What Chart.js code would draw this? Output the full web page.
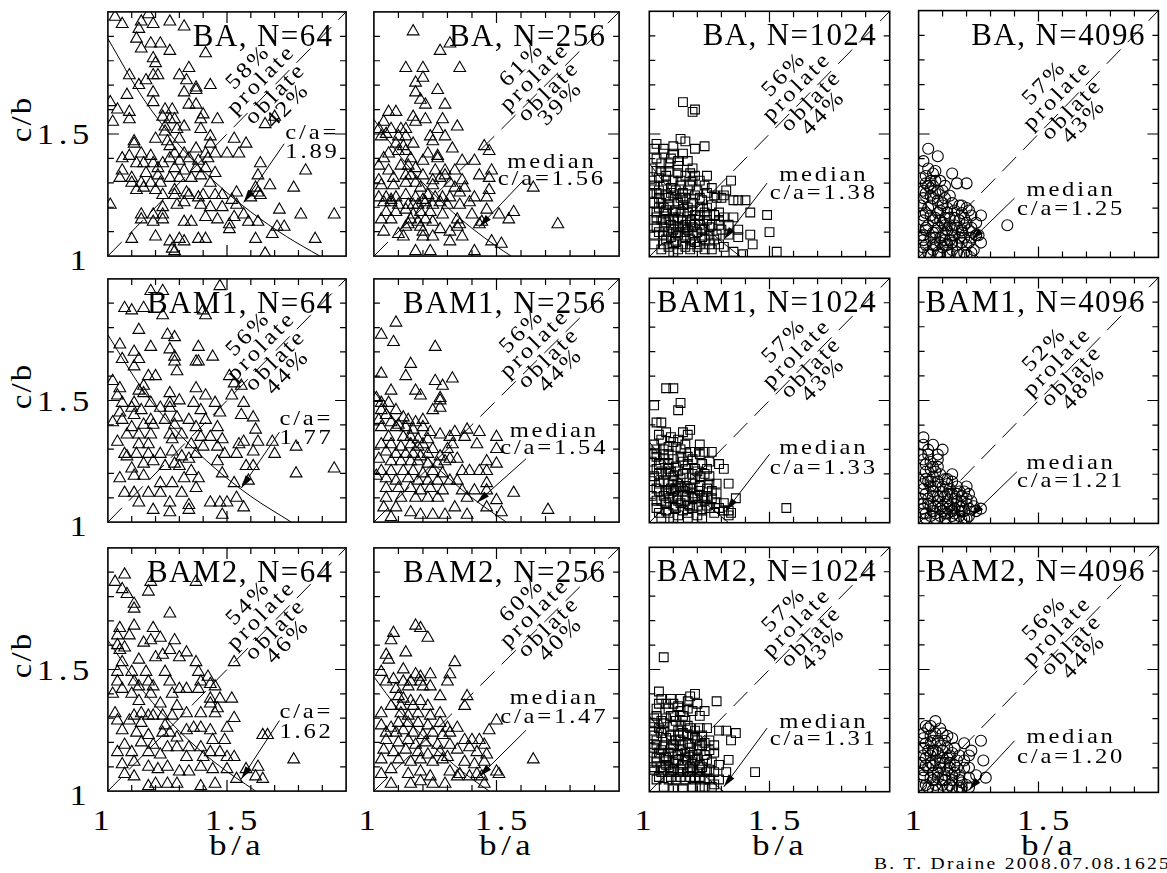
<!DOCTYPE html>
<html>
<head>
<meta charset="utf-8">
<title>c/b vs b/a</title>
<script src="https://cdn.jsdelivr.net/npm/chart.js@4.4.0/dist/chart.umd.min.js"></script>
<style>
  body { margin: 0; width: 1167px; height: 873px; overflow: hidden; background: #fff; position: relative;
         font-family: "Liberation Serif", serif; color: #000; }
  .lab { position: absolute; white-space: nowrap; line-height: 1; font-weight: normal; transform-origin: center center; }
</style>
</head>
<body>
<script>
// ---- data (b/a, c/b) ----
const ba64 = [[1.03,1.98],[1.06,1.95],[1.17,1.99],[1.14,1.96],[1.19,1.95],[1.26,1.96],[1.32,1.94],[1.13,1.93],[1.12,1.89],[1.18,1.87],[1.22,1.87],[1.26,1.84],[1.14,1.85],[1.41,1.83],[1.19,1.81],[1.20,1.79],[1.34,1.77],[1.09,1.74],[1.19,1.74],[1.21,1.74],[1.30,1.74],[1.13,1.70],[1.16,1.72],[1.33,1.72],[1.43,1.70],[1.37,1.69],[1.32,1.67],[1.08,1.66],[1.19,1.67],[1.37,1.68],[1.01,1.63],[1.04,1.60],[1.09,1.59],[1.19,1.63],[1.34,1.62],[1.37,1.62],[1.40,1.58],[1.24,1.60],[1.27,1.60],[1.23,1.57],[1.26,1.56],[1.28,1.56],[1.46,1.56],[1.39,1.56],[1.02,1.55],[1.70,1.57],[1.66,1.54],[1.09,1.56],[1.24,1.53],[1.29,1.52],[1.32,1.53],[1.39,1.52],[1.24,1.51],[1.43,1.49],[1.53,1.48],[1.58,1.46],[1.11,1.46],[1.11,1.47],[1.20,1.48],[1.25,1.47],[1.30,1.48],[1.26,1.45],[1.43,1.46],[1.41,1.42],[1.37,1.44],[1.45,1.42],[1.50,1.42],[1.55,1.42],[1.09,1.41],[1.06,1.40],[1.14,1.42],[1.18,1.41],[1.28,1.42],[1.32,1.42],[1.12,1.38],[1.15,1.38],[1.19,1.38],[1.23,1.38],[1.26,1.40],[1.30,1.39],[1.34,1.40],[1.38,1.39],[1.42,1.40],[1.06,1.35],[1.16,1.34],[1.21,1.33],[1.21,1.36],[1.28,1.36],[1.32,1.35],[1.37,1.36],[1.41,1.36],[1.45,1.34],[1.05,1.32],[1.10,1.32],[1.10,1.30],[1.14,1.30],[1.15,1.28],[1.18,1.30],[1.22,1.30],[1.26,1.32],[1.30,1.32],[1.35,1.32],[1.39,1.33],[1.43,1.30],[1.64,1.38],[1.63,1.33],[1.83,1.35],[1.12,1.27],[1.20,1.27],[1.28,1.27],[1.33,1.26],[1.23,1.25],[1.28,1.25],[1.34,1.25],[1.38,1.24],[1.40,1.25],[1.45,1.25],[1.48,1.25],[1.52,1.23],[1.54,1.26],[1.62,1.28],[1.64,1.25],[1.68,1.29],[1.78,1.28],[1.01,1.21],[1.19,1.17],[1.23,1.20],[1.29,1.21],[1.32,1.22],[1.39,1.21],[1.43,1.20],[1.48,1.20],[1.54,1.21],[1.60,1.24],[1.63,1.26],[1.23,1.17],[1.23,1.15],[1.14,1.15],[1.14,1.17],[1.19,1.14],[1.32,1.14],[1.35,1.14],[1.41,1.16],[1.46,1.15],[1.53,1.16],[1.57,1.17],[1.59,1.14],[1.63,1.14],[1.72,1.19],[1.81,1.17],[1.95,1.17],[1.71,1.12],[1.74,1.12],[1.51,1.13],[1.51,1.11],[1.10,1.07],[1.20,1.08],[1.26,1.06],[1.30,1.07],[1.32,1.06],[1.38,1.07],[1.41,1.07],[1.27,1.03],[1.62,1.07],[1.69,1.09],[1.87,1.07],[1.66,1.01],[1.28,1.02]];

const ba256 = [[1.16,1.92],[1.27,1.84],[1.31,1.87],[1.13,1.77],[1.20,1.77],[1.35,1.77],[1.17,1.71],[1.20,1.73],[1.17,1.67],[1.26,1.68],[1.19,1.64],[1.21,1.62],[1.29,1.62],[1.06,1.59],[1.09,1.59],[1.04,1.55],[1.16,1.57],[1.17,1.55],[1.21,1.56],[1.28,1.56],[1.34,1.53],[1.02,1.52],[1.07,1.52],[1.11,1.52],[1.13,1.52],[1.03,1.49],[1.05,1.50],[1.10,1.49],[1.13,1.49],[1.23,1.49],[1.26,1.52],[1.29,1.49],[1.09,1.46],[1.12,1.45],[1.16,1.46],[1.24,1.47],[1.32,1.44],[1.45,1.45],[1.47,1.43],[1.10,1.43],[1.13,1.43],[1.22,1.42],[1.26,1.41],[1.06,1.42],[1.04,1.40],[1.15,1.40],[1.20,1.39],[1.26,1.40],[1.36,1.39],[1.41,1.39],[1.02,1.37],[1.06,1.35],[1.11,1.37],[1.14,1.37],[1.17,1.36],[1.25,1.35],[1.29,1.35],[1.33,1.35],[1.43,1.33],[1.48,1.35],[1.02,1.31],[1.08,1.32],[1.13,1.33],[1.15,1.33],[1.20,1.33],[1.24,1.31],[1.27,1.32],[1.29,1.33],[1.36,1.31],[1.47,1.32],[1.03,1.29],[1.08,1.29],[1.13,1.30],[1.17,1.30],[1.19,1.28],[1.24,1.29],[1.31,1.30],[1.33,1.28],[1.37,1.28],[1.47,1.27],[1.65,1.28],[1.02,1.24],[1.05,1.24],[1.07,1.23],[1.09,1.24],[1.13,1.25],[1.17,1.24],[1.20,1.23],[1.22,1.25],[1.25,1.24],[1.28,1.24],[1.31,1.24],[1.35,1.26],[1.41,1.24],[1.46,1.24],[1.39,1.22],[1.04,1.22],[1.07,1.22],[1.10,1.21],[1.14,1.21],[1.16,1.21],[1.18,1.21],[1.21,1.22],[1.24,1.21],[1.27,1.22],[1.30,1.21],[1.35,1.21],[1.05,1.18],[1.09,1.18],[1.13,1.19],[1.16,1.17],[1.19,1.18],[1.23,1.18],[1.28,1.17],[1.46,1.19],[1.51,1.17],[1.55,1.15],[1.57,1.18],[1.75,1.13],[1.03,1.15],[1.07,1.15],[1.15,1.15],[1.18,1.14],[1.21,1.15],[1.24,1.14],[1.34,1.15],[1.35,1.13],[1.40,1.17],[1.43,1.13],[1.44,1.14],[1.14,1.13],[1.19,1.12],[1.20,1.10],[1.27,1.11],[1.31,1.10],[1.34,1.12],[1.04,1.10],[1.13,1.12],[1.20,1.08],[1.24,1.08],[1.31,1.06],[1.36,1.08],[1.48,1.06],[1.52,1.05],[1.17,1.02],[1.23,1.02],[1.41,1.02],[1.10,1.09],[1.12,1.08]];

const ba1024 = [[1.14,1.63],[1.18,1.59],[1.19,1.60],[1.03,1.46],[1.06,1.44],[1.10,1.45],[1.13,1.48],[1.15,1.47],[1.19,1.44],[1.23,1.45],[1.02,1.44],[1.06,1.42],[1.10,1.42],[1.14,1.42],[1.12,1.39],[1.05,1.35],[1.08,1.35],[1.12,1.34],[1.15,1.33],[1.04,1.32],[1.07,1.31],[1.10,1.31],[1.18,1.31],[1.21,1.31],[1.02,1.29],[1.06,1.29],[1.09,1.28],[1.13,1.29],[1.17,1.29],[1.23,1.29],[1.34,1.31],[1.03,1.26],[1.07,1.25],[1.10,1.25],[1.13,1.24],[1.15,1.24],[1.19,1.25],[1.28,1.24],[1.31,1.25],[1.32,1.27],[1.27,1.25],[1.30,1.24],[1.35,1.23],[1.37,1.23],[1.40,1.23],[1.02,1.22],[1.05,1.22],[1.08,1.21],[1.12,1.22],[1.14,1.21],[1.18,1.22],[1.21,1.20],[1.24,1.20],[1.03,1.18],[1.06,1.18],[1.10,1.18],[1.13,1.18],[1.16,1.18],[1.19,1.17],[1.23,1.18],[1.29,1.18],[1.42,1.18],[1.49,1.17],[1.02,1.15],[1.05,1.15],[1.08,1.15],[1.10,1.15],[1.14,1.15],[1.17,1.15],[1.21,1.15],[1.24,1.15],[1.29,1.15],[1.03,1.12],[1.06,1.12],[1.10,1.11],[1.12,1.12],[1.16,1.11],[1.18,1.12],[1.22,1.11],[1.25,1.12],[1.29,1.13],[1.33,1.13],[1.37,1.11],[1.02,1.09],[1.06,1.09],[1.09,1.08],[1.12,1.09],[1.15,1.08],[1.18,1.09],[1.22,1.08],[1.25,1.09],[1.28,1.09],[1.37,1.08],[1.42,1.09],[1.50,1.10],[1.02,1.05],[1.06,1.05],[1.10,1.05],[1.14,1.05],[1.17,1.05],[1.21,1.05],[1.25,1.05],[1.29,1.05],[1.43,1.05],[1.05,1.03],[1.10,1.02],[1.17,1.03],[1.23,1.03],[1.35,1.02],[1.39,1.01],[1.53,1.02],[1.04,1.27],[1.08,1.24],[1.11,1.27],[1.14,1.26],[1.16,1.20],[1.07,1.19],[1.12,1.16],[1.09,1.13],[1.15,1.13],[1.19,1.13],[1.13,1.10],[1.17,1.07],[1.20,1.10],[1.07,1.07],[1.11,1.06],[1.04,1.20],[1.01,1.26],[1.01,1.31],[1.01,1.36],[1.08,1.38],[1.17,1.34],[1.20,1.27],[1.22,1.23],[1.26,1.21],[1.27,1.17],[1.31,1.16],[1.26,1.13],[1.33,1.09],[1.35,1.16],
  [1.03,1.40],[1.05,1.38],[1.09,1.40],[1.12,1.37],[1.16,1.39],[1.18,1.36],[1.03,1.35],[1.07,1.33],[1.13,1.31],[1.19,1.33],[1.24,1.33],[1.26,1.28],[1.04,1.24],[1.09,1.26],[1.16,1.27],[1.21,1.24],[1.24,1.26],[1.06,1.20],[1.11,1.19],[1.14,1.23],[1.18,1.19],[1.21,1.17],[1.24,1.17],[1.03,1.16],[1.07,1.14],[1.10,1.16],[1.14,1.12],[1.17,1.14],[1.21,1.13],[1.23,1.11],[1.04,1.10],[1.08,1.10],[1.11,1.10],[1.15,1.10],[1.19,1.06],[1.23,1.07],[1.27,1.07],[1.08,1.04],[1.12,1.03],[1.15,1.04],[1.20,1.04],[1.26,1.03],[1.31,1.04],[1.30,1.11]];

const ba4096 = [[1.04,1.44],[1.08,1.41],[1.02,1.39],[1.06,1.34],[1.14,1.34],[1.16,1.30],[1.20,1.30],[1.03,1.30],[1.07,1.31],[1.05,1.28],[1.08,1.27],[1.02,1.24],[1.06,1.24],[1.10,1.22],[1.14,1.22],[1.17,1.21],[1.20,1.20],[1.26,1.17],[1.04,1.20],[1.08,1.18],[1.12,1.18],[1.15,1.16],[1.19,1.16],[1.22,1.17],[1.02,1.15],[1.06,1.15],[1.10,1.14],[1.13,1.13],[1.16,1.12],[1.37,1.13],[1.03,1.11],[1.07,1.10],[1.10,1.09],[1.14,1.09],[1.18,1.10],[1.24,1.09],[1.26,1.06],[1.02,1.07],[1.06,1.05],[1.09,1.06],[1.12,1.05],[1.16,1.05],[1.20,1.05],[1.22,1.02],[1.04,1.02],[1.08,1.02],[1.12,1.02],[1.16,1.02],[1.19,1.02],[1.03,1.18],[1.05,1.21],[1.07,1.26],[1.09,1.19],[1.11,1.16],[1.04,1.13],[1.08,1.12],[1.12,1.11],[1.05,1.08],[1.09,1.08],[1.13,1.07],[1.01,1.09],[1.02,1.04],[1.06,1.03],[1.10,1.04],[1.14,1.03],[1.17,1.08],[1.15,1.13],[1.19,1.13],[1.21,1.11],[1.03,1.26],[1.06,1.29],[1.10,1.27],[1.13,1.25],[1.01,1.32],[1.04,1.36],[1.07,1.35],[1.22,1.08],[1.01,1.21],[1.18,1.18],[1.07,1.16],[1.10,1.21],[1.24,1.14],[1.23,1.03],[1.01,1.02],[1.04,1.29],[1.24,1.09],[1.25,1.09],
  [1.02,1.27],[1.05,1.25],[1.08,1.23],[1.11,1.24],[1.12,1.20],[1.15,1.19],[1.18,1.21],[1.21,1.19],[1.02,1.17],[1.05,1.17],[1.09,1.15],[1.13,1.16],[1.17,1.15],[1.20,1.14],[1.03,1.12],[1.06,1.10],[1.11,1.13],[1.14,1.11],[1.18,1.11],[1.22,1.12],[1.02,1.09],[1.07,1.08],[1.11,1.07],[1.15,1.09],[1.19,1.08],[1.03,1.05],[1.07,1.05],[1.11,1.05],[1.14,1.06],[1.18,1.06],[1.21,1.06],[1.05,1.01],[1.09,1.01],[1.13,1.01],[1.17,1.01],[1.20,1.01],[1.03,1.33],[1.09,1.31],[1.11,1.29],[1.05,1.31]];

const bam1_64 = [[1.18,1.95],[1.23,1.95],[1.47,1.97],[1.07,1.88],[1.10,1.87],[1.15,1.88],[1.23,1.85],[1.40,1.87],[1.41,1.85],[1.13,1.79],[1.25,1.77],[1.28,1.76],[1.05,1.73],[1.11,1.70],[1.18,1.72],[1.26,1.71],[1.38,1.72],[1.06,1.67],[1.13,1.67],[1.28,1.68],[1.37,1.66],[1.44,1.68],[1.11,1.64],[1.28,1.66],[1.38,1.66],[1.29,1.62],[1.17,1.60],[1.20,1.60],[1.02,1.58],[1.51,1.60],[1.53,1.57],[1.56,1.56],[1.05,1.55],[1.15,1.56],[1.13,1.54],[1.37,1.55],[1.04,1.52],[1.15,1.53],[1.26,1.53],[1.41,1.52],[1.06,1.49],[1.11,1.49],[1.18,1.49],[1.26,1.49],[1.30,1.50],[1.36,1.49],[1.45,1.49],[1.52,1.52],[1.57,1.49],[1.05,1.45],[1.10,1.47],[1.14,1.46],[1.22,1.47],[1.26,1.47],[1.39,1.46],[1.47,1.45],[1.06,1.42],[1.11,1.44],[1.18,1.42],[1.24,1.42],[1.29,1.43],[1.34,1.42],[1.41,1.42],[1.56,1.44],[1.61,1.43],[1.02,1.41],[1.10,1.39],[1.15,1.40],[1.19,1.40],[1.28,1.40],[1.37,1.39],[1.46,1.39],[1.62,1.38],[1.08,1.36],[1.13,1.36],[1.18,1.36],[1.26,1.36],[1.31,1.36],[1.39,1.35],[1.43,1.35],[1.48,1.34],[1.04,1.33],[1.13,1.32],[1.17,1.32],[1.27,1.34],[1.35,1.32],[1.40,1.31],[1.46,1.31],[1.55,1.32],[1.57,1.33],[1.63,1.33],[1.69,1.33],[1.79,1.31],[1.07,1.28],[1.08,1.27],[1.12,1.28],[1.17,1.28],[1.22,1.28],[1.27,1.29],[1.31,1.27],[1.37,1.28],[1.46,1.25],[1.49,1.28],[1.54,1.28],[1.61,1.29],[1.70,1.28],[1.10,1.22],[1.11,1.19],[1.15,1.24],[1.19,1.25],[1.24,1.23],[1.28,1.24],[1.30,1.23],[1.34,1.26],[1.35,1.21],[1.58,1.23],[1.61,1.23],[1.79,1.20],[1.95,1.22],[1.05,1.18],[1.15,1.19],[1.22,1.16],[1.27,1.16],[1.32,1.18],[1.38,1.18],[1.48,1.20],[1.59,1.17],[1.07,1.12],[1.11,1.12],[1.17,1.12],[1.22,1.12],[1.31,1.12],[1.37,1.14],[1.53,1.16],[1.13,1.08],[1.19,1.05],[1.26,1.08],[1.34,1.07],[1.34,1.05],[1.43,1.08],[1.47,1.08],[1.50,1.08],[1.54,1.10],[1.57,1.06],[1.48,1.03],[1.26,1.04]];

const bam1_256 = [[1.09,1.82],[1.03,1.77],[1.08,1.74],[1.25,1.72],[1.15,1.65],[1.03,1.61],[1.13,1.60],[1.32,1.59],[1.25,1.58],[1.28,1.56],[1.07,1.54],[1.17,1.54],[1.19,1.52],[1.27,1.51],[1.27,1.50],[1.01,1.51],[1.03,1.49],[1.06,1.49],[1.24,1.46],[1.27,1.47],[1.03,1.46],[1.05,1.44],[1.09,1.46],[1.12,1.43],[1.02,1.42],[1.07,1.41],[1.10,1.40],[1.14,1.42],[1.17,1.41],[1.20,1.42],[1.03,1.39],[1.09,1.39],[1.13,1.39],[1.16,1.38],[1.20,1.39],[1.23,1.37],[1.27,1.36],[1.33,1.37],[1.38,1.38],[1.43,1.37],[1.50,1.35],[1.06,1.35],[1.12,1.35],[1.15,1.35],[1.18,1.34],[1.22,1.34],[1.31,1.35],[1.37,1.35],[1.03,1.32],[1.07,1.32],[1.11,1.31],[1.15,1.32],[1.18,1.31],[1.20,1.32],[1.24,1.30],[1.30,1.30],[1.32,1.32],[1.42,1.32],[1.50,1.30],[1.05,1.29],[1.09,1.28],[1.13,1.28],[1.16,1.28],[1.19,1.27],[1.22,1.28],[1.27,1.27],[1.31,1.26],[1.34,1.26],[1.02,1.26],[1.07,1.25],[1.11,1.25],[1.15,1.25],[1.18,1.25],[1.22,1.24],[1.26,1.24],[1.29,1.25],[1.46,1.25],[1.50,1.24],[1.03,1.21],[1.07,1.21],[1.12,1.21],[1.16,1.21],[1.20,1.20],[1.24,1.21],[1.28,1.20],[1.36,1.21],[1.39,1.21],[1.43,1.21],[1.46,1.21],[1.01,1.19],[1.05,1.18],[1.09,1.17],[1.14,1.18],[1.18,1.17],[1.22,1.17],[1.26,1.17],[1.31,1.17],[1.34,1.17],[1.46,1.16],[1.05,1.14],[1.10,1.14],[1.15,1.14],[1.19,1.13],[1.23,1.14],[1.28,1.13],[1.36,1.13],[1.41,1.13],[1.46,1.13],[1.57,1.12],[1.05,1.10],[1.11,1.10],[1.17,1.10],[1.22,1.10],[1.26,1.10],[1.38,1.10],[1.50,1.09],[1.04,1.06],[1.09,1.06],[1.15,1.04],[1.19,1.03],[1.24,1.03],[1.29,1.03],[1.38,1.03],[1.46,1.06],[1.52,1.04],[1.71,1.05],[1.07,1.02],[1.33,1.06]];

const bam1_1024 = [[1.07,1.55],[1.10,1.55],[1.02,1.48],[1.13,1.49],[1.12,1.46],[1.03,1.41],[1.05,1.41],[1.07,1.37],[1.14,1.37],[1.17,1.38],[1.16,1.36],[1.05,1.34],[1.10,1.33],[1.15,1.32],[1.21,1.32],[1.03,1.30],[1.06,1.30],[1.11,1.31],[1.17,1.29],[1.23,1.29],[1.26,1.29],[1.02,1.28],[1.08,1.28],[1.13,1.27],[1.21,1.28],[1.25,1.25],[1.29,1.24],[1.31,1.22],[1.04,1.24],[1.08,1.24],[1.11,1.23],[1.16,1.24],[1.19,1.22],[1.22,1.24],[1.04,1.20],[1.07,1.20],[1.10,1.19],[1.14,1.20],[1.18,1.20],[1.21,1.19],[1.25,1.19],[1.04,1.16],[1.08,1.16],[1.12,1.16],[1.15,1.15],[1.18,1.16],[1.25,1.16],[1.28,1.16],[1.33,1.16],[1.04,1.13],[1.07,1.13],[1.10,1.13],[1.14,1.13],[1.18,1.12],[1.21,1.13],[1.24,1.11],[1.28,1.12],[1.05,1.09],[1.08,1.10],[1.12,1.09],[1.15,1.09],[1.18,1.10],[1.23,1.09],[1.28,1.08],[1.31,1.08],[1.36,1.10],[1.03,1.06],[1.07,1.05],[1.11,1.06],[1.14,1.05],[1.18,1.06],[1.22,1.05],[1.25,1.06],[1.33,1.05],[1.34,1.04],[1.57,1.06],[1.05,1.02],[1.10,1.02],[1.16,1.02],[1.22,1.02],[1.33,1.03],[1.06,1.26],[1.09,1.21],[1.13,1.18],[1.16,1.14],[1.19,1.18],[1.09,1.14],[1.06,1.11],[1.12,1.11],[1.17,1.07],[1.20,1.11],[1.03,1.22],[1.01,1.17],[1.01,1.11],[1.01,1.25],[1.14,1.25],[1.18,1.26],[1.10,1.07],[1.26,1.13],[1.23,1.20],[1.02,1.32],[1.08,1.31],[1.12,1.34],
  [1.04,1.36],[1.09,1.35],[1.13,1.30],[1.06,1.28],[1.10,1.26],[1.16,1.27],[1.19,1.29],[1.03,1.27],[1.05,1.21],[1.08,1.22],[1.12,1.21],[1.15,1.22],[1.20,1.21],[1.24,1.22],[1.02,1.19],[1.06,1.17],[1.10,1.17],[1.13,1.15],[1.17,1.14],[1.21,1.15],[1.24,1.14],[1.03,1.14],[1.08,1.12],[1.11,1.14],[1.15,1.11],[1.19,1.11],[1.22,1.10],[1.26,1.10],[1.03,1.09],[1.07,1.08],[1.10,1.10],[1.13,1.08],[1.16,1.07],[1.20,1.07],[1.24,1.07],[1.29,1.06],[1.04,1.04],[1.08,1.04],[1.12,1.03],[1.16,1.04],[1.20,1.03],[1.27,1.04],[1.31,1.05]];

const bam1_4096 = [[1.02,1.35],[1.06,1.32],[1.10,1.30],[1.02,1.32],[1.03,1.24],[1.05,1.25],[1.08,1.26],[1.03,1.21],[1.07,1.21],[1.14,1.20],[1.04,1.17],[1.08,1.17],[1.12,1.16],[1.16,1.15],[1.20,1.15],[1.02,1.14],[1.06,1.13],[1.10,1.13],[1.14,1.12],[1.18,1.11],[1.21,1.12],[1.04,1.10],[1.08,1.09],[1.12,1.09],[1.16,1.09],[1.20,1.08],[1.26,1.06],[1.24,1.05],[1.02,1.06],[1.06,1.05],[1.10,1.05],[1.14,1.05],[1.18,1.05],[1.21,1.03],[1.03,1.02],[1.07,1.02],[1.11,1.02],[1.15,1.02],[1.19,1.02],[1.03,1.18],[1.06,1.19],[1.09,1.20],[1.05,1.15],[1.08,1.11],[1.11,1.11],[1.13,1.14],[1.04,1.08],[1.07,1.07],[1.10,1.07],[1.13,1.07],[1.16,1.12],[1.01,1.10],[1.02,1.04],[1.05,1.03],[1.09,1.03],[1.12,1.04],[1.15,1.04],[1.17,1.07],[1.01,1.28],[1.04,1.28],[1.06,1.23],[1.11,1.18],[1.19,1.05],[1.22,1.09],
  [1.02,1.26],[1.05,1.22],[1.08,1.23],[1.02,1.16],[1.05,1.17],[1.07,1.15],[1.10,1.15],[1.12,1.18],[1.14,1.17],[1.17,1.13],[1.19,1.13],[1.03,1.12],[1.06,1.11],[1.09,1.11],[1.12,1.12],[1.15,1.10],[1.18,1.09],[1.20,1.10],[1.02,1.08],[1.05,1.07],[1.09,1.06],[1.12,1.06],[1.15,1.06],[1.18,1.07],[1.21,1.06],[1.23,1.07],[1.03,1.04],[1.07,1.04],[1.11,1.04],[1.14,1.03],[1.17,1.03],[1.20,1.02],[1.04,1.30],[1.08,1.28]];

const bam2_64 = [[1.03,1.86],[1.07,1.89],[1.06,1.83],[1.08,1.81],[1.17,1.82],[1.18,1.86],[1.37,1.86],[1.11,1.77],[1.11,1.75],[1.26,1.73],[1.05,1.67],[1.11,1.68],[1.19,1.67],[1.04,1.64],[1.09,1.64],[1.15,1.61],[1.18,1.62],[1.22,1.63],[1.28,1.62],[1.04,1.60],[1.07,1.59],[1.26,1.58],[1.33,1.57],[1.05,1.58],[1.23,1.56],[1.30,1.55],[1.06,1.53],[1.13,1.54],[1.20,1.55],[1.37,1.53],[1.53,1.53],[1.04,1.49],[1.10,1.49],[1.16,1.49],[1.24,1.49],[1.38,1.49],[1.42,1.47],[1.04,1.45],[1.11,1.45],[1.17,1.45],[1.26,1.45],[1.39,1.45],[1.43,1.44],[1.06,1.42],[1.13,1.43],[1.19,1.43],[1.30,1.42],[1.33,1.42],[1.38,1.42],[1.45,1.43],[1.02,1.40],[1.10,1.40],[1.18,1.40],[1.27,1.40],[1.43,1.38],[1.47,1.38],[1.52,1.38],[1.13,1.37],[1.22,1.36],[1.29,1.35],[1.33,1.32],[1.43,1.36],[1.46,1.34],[1.03,1.32],[1.11,1.31],[1.14,1.32],[1.17,1.31],[1.19,1.31],[1.23,1.31],[1.27,1.31],[1.39,1.32],[1.45,1.32],[1.53,1.30],[1.04,1.29],[1.09,1.29],[1.14,1.28],[1.24,1.27],[1.33,1.25],[1.36,1.26],[1.39,1.26],[1.43,1.25],[1.50,1.26],[1.65,1.23],[1.67,1.23],[1.06,1.25],[1.12,1.24],[1.17,1.23],[1.23,1.24],[1.26,1.24],[1.29,1.22],[1.44,1.21],[1.49,1.21],[1.07,1.19],[1.14,1.20],[1.19,1.19],[1.25,1.18],[1.29,1.18],[1.34,1.18],[1.39,1.18],[1.43,1.16],[1.47,1.16],[1.04,1.16],[1.10,1.16],[1.17,1.16],[1.22,1.15],[1.33,1.14],[1.40,1.14],[1.50,1.14],[1.53,1.14],[1.78,1.13],[1.06,1.11],[1.11,1.12],[1.17,1.10],[1.21,1.09],[1.25,1.10],[1.30,1.08],[1.34,1.08],[1.39,1.10],[1.44,1.09],[1.50,1.09],[1.58,1.09],[1.63,1.10],[1.62,1.06],[1.65,1.05],[1.11,1.06],[1.17,1.02],[1.20,1.03],[1.25,1.03],[1.29,1.03],[1.39,1.02],[1.45,1.03],[1.54,1.05],[1.07,1.07]];

const bam2_256 = [[1.17,1.68],[1.19,1.67],[1.22,1.63],[1.08,1.65],[1.07,1.62],[1.13,1.57],[1.05,1.56],[1.06,1.54],[1.33,1.53],[1.03,1.49],[1.12,1.50],[1.17,1.48],[1.19,1.47],[1.23,1.48],[1.31,1.48],[1.05,1.45],[1.08,1.46],[1.12,1.45],[1.15,1.45],[1.19,1.45],[1.30,1.45],[1.09,1.42],[1.14,1.43],[1.20,1.43],[1.23,1.43],[1.10,1.39],[1.12,1.38],[1.15,1.37],[1.19,1.37],[1.27,1.39],[1.38,1.39],[1.07,1.35],[1.11,1.35],[1.16,1.35],[1.22,1.35],[1.37,1.35],[1.03,1.32],[1.11,1.32],[1.14,1.31],[1.18,1.32],[1.23,1.31],[1.27,1.32],[1.50,1.29],[1.03,1.27],[1.07,1.26],[1.10,1.28],[1.14,1.28],[1.18,1.28],[1.22,1.27],[1.27,1.28],[1.30,1.26],[1.34,1.26],[1.47,1.25],[1.05,1.24],[1.09,1.24],[1.12,1.25],[1.16,1.24],[1.20,1.23],[1.24,1.24],[1.28,1.23],[1.31,1.24],[1.37,1.21],[1.40,1.21],[1.43,1.21],[1.05,1.21],[1.10,1.20],[1.14,1.21],[1.17,1.19],[1.21,1.20],[1.26,1.19],[1.31,1.19],[1.34,1.17],[1.39,1.18],[1.45,1.19],[1.04,1.17],[1.08,1.16],[1.13,1.17],[1.18,1.16],[1.22,1.15],[1.27,1.16],[1.30,1.14],[1.42,1.16],[1.46,1.15],[1.65,1.13],[1.03,1.13],[1.10,1.13],[1.15,1.12],[1.19,1.13],[1.24,1.12],[1.28,1.13],[1.37,1.12],[1.41,1.11],[1.45,1.12],[1.03,1.07],[1.07,1.09],[1.14,1.07],[1.19,1.08],[1.23,1.06],[1.31,1.08],[1.35,1.07],[1.39,1.06],[1.42,1.07],[1.44,1.06],[1.50,1.08],[1.15,1.03],[1.19,1.04],[1.24,1.03],[1.29,1.03],[1.45,1.03],[1.51,1.07],[1.07,1.03],[1.34,1.06]];

const bam2_1024 = [[1.06,1.55],[1.04,1.41],[1.05,1.38],[1.13,1.38],[1.17,1.39],[1.19,1.40],[1.28,1.37],[1.07,1.36],[1.10,1.36],[1.16,1.37],[1.20,1.36],[1.03,1.34],[1.08,1.34],[1.12,1.35],[1.16,1.34],[1.03,1.31],[1.07,1.30],[1.10,1.31],[1.14,1.31],[1.21,1.31],[1.02,1.28],[1.06,1.28],[1.10,1.27],[1.13,1.27],[1.17,1.26],[1.21,1.26],[1.29,1.25],[1.32,1.25],[1.36,1.24],[1.02,1.23],[1.05,1.24],[1.09,1.23],[1.12,1.23],[1.16,1.23],[1.18,1.23],[1.22,1.23],[1.25,1.21],[1.34,1.21],[1.03,1.19],[1.06,1.19],[1.10,1.19],[1.14,1.19],[1.17,1.18],[1.21,1.19],[1.25,1.17],[1.04,1.16],[1.08,1.16],[1.12,1.15],[1.15,1.16],[1.18,1.15],[1.23,1.15],[1.27,1.16],[1.33,1.13],[1.03,1.12],[1.07,1.11],[1.10,1.12],[1.14,1.11],[1.18,1.12],[1.21,1.11],[1.26,1.12],[1.29,1.11],[1.05,1.08],[1.09,1.08],[1.12,1.08],[1.16,1.08],[1.20,1.08],[1.24,1.08],[1.27,1.08],[1.32,1.08],[1.44,1.08],[1.03,1.05],[1.08,1.05],[1.11,1.05],[1.15,1.05],[1.19,1.05],[1.23,1.05],[1.27,1.03],[1.10,1.01],[1.14,1.01],[1.21,1.02],[1.26,1.02],[1.06,1.25],[1.09,1.21],[1.13,1.21],[1.16,1.20],[1.20,1.21],[1.08,1.13],[1.12,1.13],[1.16,1.13],[1.19,1.13],[1.05,1.10],[1.08,1.10],[1.13,1.09],[1.18,1.09],[1.22,1.10],[1.01,1.16],[1.01,1.10],[1.01,1.25],[1.04,1.26],[1.11,1.29],[1.15,1.29],[1.22,1.19],[1.06,1.14],[1.10,1.16],[1.02,1.30],
  [1.04,1.36],[1.09,1.38],[1.13,1.33],[1.18,1.33],[1.23,1.33],[1.05,1.29],[1.09,1.31],[1.12,1.25],[1.16,1.27],[1.19,1.25],[1.24,1.26],[1.03,1.21],[1.07,1.22],[1.11,1.21],[1.14,1.24],[1.19,1.22],[1.23,1.20],[1.27,1.19],[1.02,1.18],[1.05,1.17],[1.09,1.18],[1.13,1.17],[1.17,1.16],[1.20,1.17],[1.24,1.13],[1.03,1.14],[1.07,1.14],[1.11,1.13],[1.15,1.14],[1.20,1.14],[1.02,1.09],[1.06,1.09],[1.10,1.09],[1.14,1.08],[1.17,1.10],[1.21,1.09],[1.25,1.09],[1.04,1.06],[1.09,1.06],[1.13,1.06],[1.17,1.06],[1.21,1.06],[1.25,1.05],[1.29,1.05],[1.06,1.02],[1.18,1.02],[1.23,1.02]];

const bam2_4096 = [[1.07,1.29],[1.04,1.26],[1.07,1.24],[1.02,1.22],[1.06,1.21],[1.11,1.21],[1.14,1.22],[1.19,1.20],[1.22,1.17],[1.26,1.21],[1.02,1.18],[1.06,1.17],[1.10,1.17],[1.14,1.16],[1.21,1.15],[1.27,1.13],[1.03,1.14],[1.07,1.13],[1.11,1.12],[1.15,1.11],[1.19,1.10],[1.04,1.10],[1.08,1.08],[1.12,1.09],[1.15,1.08],[1.28,1.06],[1.02,1.06],[1.06,1.05],[1.10,1.05],[1.14,1.05],[1.18,1.04],[1.20,1.03],[1.04,1.02],[1.08,1.01],[1.12,1.02],[1.16,1.01],[1.03,1.20],[1.05,1.23],[1.09,1.19],[1.12,1.14],[1.05,1.15],[1.08,1.16],[1.09,1.10],[1.05,1.12],[1.01,1.12],[1.02,1.09],[1.06,1.08],[1.11,1.07],[1.13,1.12],[1.16,1.13],[1.01,1.03],[1.07,1.03],[1.13,1.03],[1.17,1.07],[1.03,1.27],[1.15,1.18],[1.18,1.02],[1.10,1.24],
  [1.02,1.24],[1.05,1.20],[1.08,1.21],[1.12,1.18],[1.02,1.15],[1.04,1.17],[1.07,1.17],[1.10,1.14],[1.13,1.15],[1.17,1.15],[1.19,1.13],[1.03,1.11],[1.06,1.11],[1.09,1.12],[1.13,1.10],[1.16,1.10],[1.21,1.10],[1.02,1.07],[1.05,1.06],[1.08,1.06],[1.11,1.05],[1.14,1.07],[1.17,1.05],[1.21,1.06],[1.24,1.07],[1.03,1.03],[1.06,1.01],[1.10,1.03],[1.14,1.02],[1.17,1.02],[1.21,1.02],[1.05,1.27],[1.09,1.26],[1.12,1.23]];

// median c/a curves, c/b = (c/a)/(b/a)
const hypBA64 = [[1,1.89],[1.15,1.643],[1.3,1.454],[1.45,1.303],[1.6,1.181],[1.75,1.08],[1.89,1]];
const hypBA256 = [[1,1.56],[1.1,1.418],[1.2,1.3],[1.3,1.2],[1.4,1.114],[1.5,1.04],[1.56,1]];
const hypBA1024 = [[1,1.38],[1.1,1.255],[1.2,1.15],[1.3,1.062],[1.38,1]];
const hypBA4096 = [[1,1.25],[1.1,1.136],[1.2,1.042],[1.25,1]];
const hypBAM1_64 = [[1,1.77],[1.15,1.539],[1.3,1.362],[1.45,1.221],[1.6,1.106],[1.77,1]];
const hypBAM1_256 = [[1,1.54],[1.1,1.4],[1.2,1.283],[1.3,1.185],[1.4,1.1],[1.54,1]];
const hypBAM1_1024 = [[1,1.33],[1.1,1.209],[1.2,1.108],[1.33,1]];
const hypBAM1_4096 = [[1,1.21],[1.1,1.1],[1.21,1]];
const hypBAM2_64 = [[1,1.62],[1.15,1.409],[1.3,1.246],[1.45,1.117],[1.62,1]];
const hypBAM2_256 = [[1,1.47],[1.1,1.336],[1.2,1.225],[1.3,1.131],[1.4,1.05],[1.47,1]];
const hypBAM2_1024 = [[1,1.31],[1.1,1.191],[1.2,1.092],[1.31,1]];
const hypBAM2_4096 = [[1,1.2],[1.1,1.091],[1.2,1]];
const diagonal = [[1,1],[2,2]];

const panelTitles = ['BA, N=64','BA, N=256','BA, N=1024','BA, N=4096',
                     'BAM1, N=64','BAM1, N=256','BAM1, N=1024','BAM1, N=4096',
                     'BAM2, N=64','BAM2, N=256','BAM2, N=1024','BAM2, N=4096'];
const prolatePct = [58,61,56,57,56,56,57,52,54,60,57,56];
const oblatePct  = [42,39,44,43,44,44,43,48,46,40,43,44];
const medianCA = ['1.89','1.56','1.38','1.25','1.77','1.54','1.33','1.21','1.62','1.47','1.31','1.20'];
const arrowFrom = [[1.74,1.46],[1.61,1.31],[1.49,1.30],[1.40,1.24],[1.72,1.37],[1.62,1.26],[1.50,1.28],[1.41,1.21],[1.72,1.29],[1.62,1.25],[1.49,1.26],[1.40,1.21]];
const arrowTo   = [[1.57,1.22],[1.43,1.12],[1.31,1.07],[1.22,1.07],[1.56,1.14],[1.42,1.08],[1.32,1.05],[1.22,1.03],[1.56,1.05],[1.43,1.06],[1.31,1.02],[1.21,1.01]];
const tickVals = [1.1,1.2,1.3,1.4,1.5,1.6,1.7,1.8,1.9];
const majorTicks = [1.5];

const allPoints = [ba64, ba256, ba1024, ba4096, bam1_64, bam1_256, bam1_1024, bam1_4096, bam2_64, bam2_256, bam2_1024, bam2_4096];
const allCurves = [hypBA64, hypBA256, hypBA1024, hypBA4096, hypBAM1_64, hypBAM1_256, hypBAM1_1024, hypBAM1_4096, hypBAM2_64, hypBAM2_256, hypBAM2_1024, hypBAM2_4096];

// ---- layout ----
const colLeft = [101, 367, 643, 913];
const colWidth = [252, 259, 253, 251];
const rowTop = [5, 272, 541];
const rowHeight = [258, 257, 257];
const markerStyle = ['triangle', 'triangle', 'rect', 'circle'];
const markerRadius = [6.8, 6.8, 6.2, 5.5];
const diagT = [1.68, 1.69, 1.65, 1.615];
// label anchor: [x, baseline1, baseline2] in data units
const labelPos = [[1.745,1.48,1.40],[1.72,1.36,1.29],[1.72,1.31,1.235],[1.63,1.25,1.17],
                  [1.72,1.40,1.32],[1.73,1.35,1.28],[1.72,1.28,1.20],[1.63,1.22,1.15],
                  [1.72,1.30,1.22],[1.73,1.36,1.28],[1.72,1.26,1.19],[1.63,1.20,1.12]];

const FONT = '"Liberation Serif", serif';
const xy = arr => arr.map(p => ({x: p[0], y: p[1]}));

function stretchText(ctx, txt, x, y, sx, sp, align, base) {
  ctx.save();
  ctx.translate(x, y);
  ctx.scale(sx, 1);
  ctx.letterSpacing = sp + 'px';
  ctx.textAlign = align;
  ctx.textBaseline = base || 'alphabetic';
  // letter spacing also trails the last glyph; shift so the ink stays where it should
  const shift = align === 'center' ? sp / 2 : (align === 'right' ? sp : 0);
  ctx.fillText(txt, shift, 0);
  ctx.restore();
}

function makeDecor(i, col) {
  return {
    id: 'decor' + i,
    afterDatasetsDraw(chart) {
      const ctx = chart.ctx, a = chart.chartArea;
      const xs = chart.scales.x, ys = chart.scales.y;
      ctx.save();
      ctx.strokeStyle = '#000';
      ctx.fillStyle = '#000';
      ctx.lineWidth = 1.6;
      ctx.strokeRect(a.left, a.top, a.right - a.left, a.bottom - a.top);
      ctx.lineWidth = 1.2;
      ctx.beginPath();
      tickVals.forEach(v => {
        const len = majorTicks.includes(v) ? 11 : 6;
        const px = xs.getPixelForValue(v), py = ys.getPixelForValue(v);
        ctx.moveTo(px, a.bottom); ctx.lineTo(px, a.bottom - len);
        ctx.moveTo(px, a.top); ctx.lineTo(px, a.top + len);
        ctx.moveTo(a.left, py); ctx.lineTo(a.left + len, py);
        ctx.moveTo(a.right, py); ctx.lineTo(a.right - len, py);
      });
      ctx.stroke();

      // arrow head
      const fx = xs.getPixelForValue(arrowFrom[i][0]), fy = ys.getPixelForValue(arrowFrom[i][1]);
      const tx = xs.getPixelForValue(arrowTo[i][0]), ty = ys.getPixelForValue(arrowTo[i][1]);
      const ang = Math.atan2(ty - fy, tx - fx);
      ctx.beginPath();
      ctx.moveTo(tx, ty);
      ctx.lineTo(tx - 13 * Math.cos(ang) + 3.5 * Math.sin(ang), ty - 13 * Math.sin(ang) - 3.5 * Math.cos(ang));
      ctx.lineTo(tx - 13 * Math.cos(ang) - 3.5 * Math.sin(ang), ty - 13 * Math.sin(ang) + 3.5 * Math.cos(ang));
      ctx.closePath();
      ctx.fill();

      // title
      ctx.font = '31px ' + FONT;
      stretchText(ctx, panelTitles[i], a.right - 14, a.top + 34, 1.0, 1.4, 'right');

      // prolate / oblate along the diagonal
      ctx.font = '22px ' + FONT;
      const t = diagT[col];
      const cx = xs.getPixelForValue(t), cy = ys.getPixelForValue(t);
      const rot = Math.atan2(ys.getPixelForValue(2) - ys.getPixelForValue(1), xs.getPixelForValue(2) - xs.getPixelForValue(1));
      ctx.save();
      ctx.translate(cx, cy);
      ctx.rotate(rot);
      [[prolatePct[i] + '%', -31], ['prolate', -13], ['oblate', 7], [oblatePct[i] + '%', 24]]
        .forEach(([s, off]) => stretchText(ctx, s, 0, off, 1.12, 2.5, 'center', 'middle'));
      ctx.restore();

      // median label
      const lp = labelPos[i];
      const lx = xs.getPixelForValue(lp[0]);
      const l1 = ys.getPixelForValue(lp[1]), l2 = ys.getPixelForValue(lp[2]);
      if (col === 0) {
        stretchText(ctx, 'c/a=', lx, l1, 1.12, 2.5, 'left');
        stretchText(ctx, medianCA[i], lx, l2, 1.12, 2.5, 'left');
      } else {
        stretchText(ctx, 'median', lx, l1, 1.12, 2.5, 'center');
        stretchText(ctx, 'c/a=' + medianCA[i], lx, l2, 1.12, 2.5, 'center');
      }
      ctx.restore();
    }
  };
}

allPoints.forEach((pts, i) => {
  const col = i % 4, row = Math.floor(i / 4);
  const W = colWidth[col] + 2, H = rowHeight[row] + 2;
  const cv = document.createElement('canvas');
  cv.width = W; cv.height = H;
  cv.style.cssText = 'position:absolute;left:' + (colLeft[col] - 1) + 'px;top:' + (rowTop[row] - 1) + 'px;width:' + W + 'px;height:' + H + 'px';
  document.body.appendChild(cv);
  new Chart(cv, {
    type: 'scatter',
    data: {
      datasets: [
        { data: xy(pts), pointStyle: markerStyle[col], pointRadius: markerRadius[col],
          borderColor: '#000', backgroundColor: 'rgba(0,0,0,0)', borderWidth: 1.1, pointBorderWidth: 1.1, clip: 0 },
        { type: 'line', data: xy(allCurves[i]), borderColor: '#000', borderWidth: 1, pointRadius: 0,
          cubicInterpolationMode: 'monotone', fill: false, clip: 0 },
        { type: 'line', data: xy(diagonal), borderColor: '#000', borderWidth: 1, borderDash: [20, 10],
          pointRadius: 0, fill: false, clip: 0 },
        { type: 'line', data: xy([arrowFrom[i], arrowTo[i]]), borderColor: '#000', borderWidth: 1,
          pointRadius: 0, fill: false, clip: 0 }
      ]
    },
    options: {
      responsive: false,
      animation: false,
      events: [],
      layout: { padding: 1 },
      plugins: { legend: { display: false }, tooltip: { enabled: false } },
      scales: {
        x: { type: 'linear', min: 1, max: 2, display: false },
        y: { type: 'linear', min: 1, max: 2, display: false }
      }
    },
    plugins: [makeDecor(i, col)]
  });
});

// ---- axis labels outside the panels ----
function addLabel(text, cx, cy, size, sx, sp, rot) {
  const d = document.createElement('div');
  d.className = 'lab';
  d.textContent = text;
  d.style.left = cx + 'px';
  d.style.top = cy + 'px';
  d.style.fontSize = size + 'px';
  d.style.letterSpacing = sp + 'px';
  d.style.paddingLeft = sp + 'px';   // balance the trailing letter space
  d.style.transform = 'translate(-50%,-50%)' + (rot ? ' rotate(' + rot + 'deg)' : '') + ' scaleX(' + sx + ')';
  document.body.appendChild(d);
}
rowTop.forEach((top, r) => {
  const mid = top + rowHeight[r] / 2, bot = top + rowHeight[r];
  addLabel('1.5', 63, mid, 30, 1.15, 4);
  addLabel('1', 78, bot - 3, 30, 1.15, 0);
  addLabel('c/b', 21, mid - 14, 30, 1.1, 2, -90);
});
colLeft.forEach((left, c) => {
  const mid = left + colWidth[c] / 2;
  addLabel('1', left, 820, 30, 1.15, 0);
  addLabel('1.5', mid + 4, 820, 30, 1.15, 4);
  addLabel('b/a', mid + 8, 845, 30, 1.15, 4);
});
const credit = document.createElement('div');
credit.className = 'lab';
credit.textContent = 'B. T. Draine  2008.07.08.1625';
credit.style.cssText = 'left:874px;top:855px;font-size:17px;letter-spacing:2px;transform-origin:left center;transform:scaleX(1.15)';
document.body.appendChild(credit);
</script>
</body>
</html>
